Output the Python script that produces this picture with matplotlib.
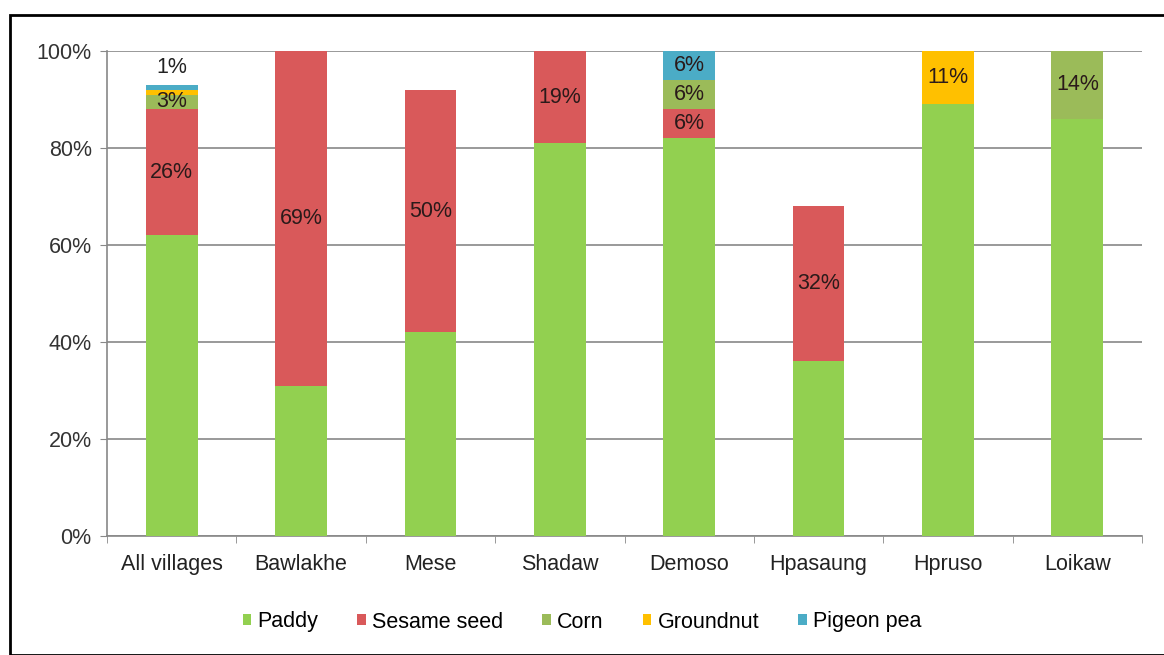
import numpy as np
import matplotlib
matplotlib.use("Agg")
import matplotlib.pyplot as plt
from matplotlib.patches import Rectangle

plt.rcParams['font.family'] = ['Liberation Sans', 'DejaVu Sans']

# --- data (share of cultivated area, %) ---
villages = ["All villages", "Bawlakhe", "Mese", "Shadaw", "Demoso",
            "Hpasaung", "Hpruso", "Loikaw"]
paddy      = [62, 31, 42, 81, 82, 36, 89, 86]
sesame     = [26, 69, 50, 19, 6, 32, 0, 0]
corn       = [3, 0, 0, 0, 6, 0, 0, 14]
groundnut  = [1, 0, 0, 0, 0, 0, 11, 0]
pigeon_pea = [1, 0, 0, 0, 6, 0, 0, 0]

series = [("Paddy", paddy, "#92D050", False),
          ("Sesame seed", sesame, "#D9595A", True),
          ("Corn", corn, "#9BBB59", True),
          ("Groundnut", groundnut, "#FFC000", True),
          ("Pigeon pea", pigeon_pea, "#4BACC6", True)]

FS = 15.5

fig = plt.figure(figsize=(11.64, 6.55), dpi=100)
ax = fig.add_axes([107/1164, 1 - 536/655, 1035/1164, 485/655])

# black frame round the whole chart
fig.patches.append(Rectangle((10/1164, 0), 1160/1164, 1 - 15/655,
                             transform=fig.transFigure, fill=False,
                             edgecolor="black", lw=2))

x = np.arange(len(villages))
bottom = np.zeros(len(villages))
for name, vals, col, lab in series:
    vals = np.array(vals, float)
    ax.bar(x, vals / 100, 0.4, bottom=bottom / 100, color=col, label=name,
           zorder=3)
    if lab:
        for i, v in enumerate(vals):
            if v >= 2:
                ax.text(x[i], (bottom[i] + v / 2) / 100, f"{v:.0f}%",
                        ha="center", va="center", fontsize=FS,
                        color="#2a1a1a", zorder=4)
    bottom += vals

# small top label on the first bar (pigeon pea share)
ax.text(x[0], (bottom[0] + 1.5) / 100, f"{pigeon_pea[0]}%", ha="center",
        va="bottom", fontsize=FS, color="#222222")

ax.set_xlim(-0.5, len(villages) - 0.5)
ax.set_ylim(0, 1)
ax.set_yticks(np.arange(0, 1.01, 0.2))
ax.set_yticklabels([f"{int(t*100)}%" for t in np.arange(0, 1.01, 0.2)],
                   fontsize=FS, color="#333333")
ax.set_xticks(x)
ax.set_xticklabels(villages, fontsize=FS, color="#222222")
ax.set_xticks(np.arange(-0.5, len(villages)), minor=True)
ax.tick_params(axis="x", which="major", length=0, pad=13)
ax.tick_params(axis="x", which="minor", length=5, color="#888888")
ax.tick_params(axis="y", length=5, color="#888888", pad=6)
ax.yaxis.grid(True, color="#888888", lw=1.2, zorder=0)
for s in ["top", "right"]:
    ax.spines[s].set_visible(False)
for s in ["left", "bottom"]:
    ax.spines[s].set_color("#888888")
    ax.spines[s].set_linewidth(1.2)

fig.legend(loc="center", bbox_to_anchor=(0.5, 1 - 622/655), ncol=5,
           frameon=False, fontsize=FS, handlelength=0.4, handleheight=0.4,
           handletextpad=0.3, columnspacing=1.8)

fig.savefig("out.png", dpi=100)
